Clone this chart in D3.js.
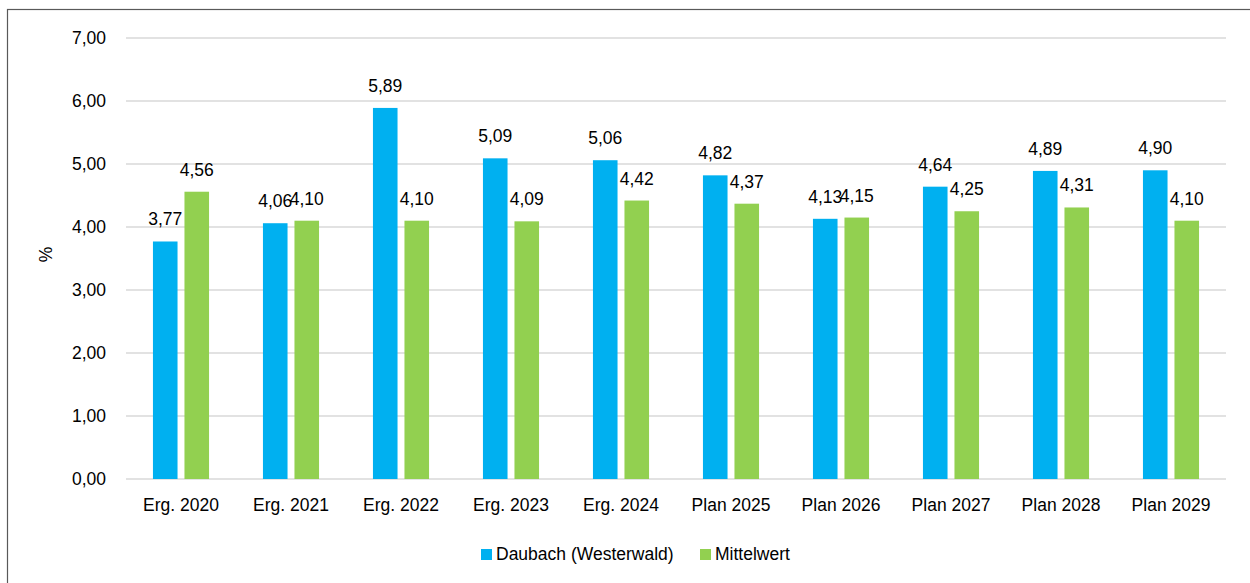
<!DOCTYPE html>
<html>
<head>
<meta charset="utf-8">
<script src="https://cdn.jsdelivr.net/npm/d3@7"></script>
<style>
  body { margin: 0; background: #fff; }
  svg text { font-family: "Liberation Sans", Arial, sans-serif; fill: #000; }
</style>
</head>
<body>
<div id="chart"></div>
<script>
var categories = ["Erg. 2020","Erg. 2021","Erg. 2022","Erg. 2023","Erg. 2024","Plan 2025","Plan 2026","Plan 2027","Plan 2028","Plan 2029"];
var seriesNames = ["Daubach (Westerwald)", "Mittelwert"];
var daubach = [3.77, 4.06, 5.89, 5.09, 5.06, 4.82, 4.13, 4.64, 4.89, 4.90];
var mittelwert = [4.56, 4.10, 4.10, 4.09, 4.42, 4.37, 4.15, 4.25, 4.31, 4.10];
var yTicks = [0, 1, 2, 3, 4, 5, 6, 7];
var colors = ["#00B0F0", "#92D050"];

var W = 1250, H = 583;
var margin = {top: 38, right: 24, bottom: 104, left: 126},
    width = W - margin.left - margin.right,
    height = H - margin.top - margin.bottom;

var fmt = function(v) { return d3.format(".2f")(v).replace(".", ","); };

var root = d3.select("#chart").append("svg")
    .attr("width", W)
    .attr("height", H);

// outer frame
root.append("rect")
  .attr("x", 7.5).attr("y", 9.5)
  .attr("width", W + 20).attr("height", H + 20)
  .attr("fill", "none")
  .attr("stroke", "#595959")
  .attr("stroke-width", 1.2);

var svg = root.append("g")
    .attr("transform", "translate(" + margin.left + "," + margin.top + ")");

var x0 = d3.scaleBand()
  .domain(categories)
  .range([0, width])
  .paddingInner(0.49)
  .paddingOuter(0.245);

var x1 = d3.scaleBand()
  .domain(seriesNames)
  .range([0, x0.bandwidth()])
  .paddingInner(0.22);

var y = d3.scaleLinear()
  .domain([0, 7])
  .range([height, 0]);

// gridlines
svg.append("g")
  .selectAll("line")
  .data(yTicks)
  .enter()
  .append("line")
    .attr("x1", 0).attr("x2", width)
    .attr("y1", function(d) { return y(d); })
    .attr("y2", function(d) { return y(d); })
    .attr("stroke", "#D9D9D9")
    .attr("stroke-width", 1.5);

// y axis labels
var yAxis = svg.append("g")
  .call(d3.axisLeft(y).tickValues(yTicks).tickSize(0).tickPadding(20).tickFormat(fmt));
yAxis.select(".domain").remove();
yAxis.selectAll("text")
  .style("font-size", "17.5px")
  .attr("fill", "#000");

// x axis labels
var xAxis = svg.append("g")
  .attr("transform", "translate(0," + height + ")")
  .call(d3.axisBottom(x0).tickSize(0).tickPadding(20));
xAxis.select(".domain").remove();
xAxis.selectAll("text")
  .style("font-size", "17.5px")
  .attr("fill", "#000");

// bars
var rows = categories.map(function(c, i) {
  return {cat: c, vals: [
    {name: seriesNames[0], value: daubach[i], color: colors[0]},
    {name: seriesNames[1], value: mittelwert[i], color: colors[1]}
  ]};
});

var groups = svg.append("g")
  .selectAll("g")
  .data(rows)
  .enter()
  .append("g")
    .attr("transform", function(d) { return "translate(" + x0(d.cat) + ",0)"; });

groups.selectAll("rect")
  .data(function(d) { return d.vals; })
  .enter()
  .append("rect")
    .attr("x", function(d) { return x1(d.name); })
    .attr("y", function(d) { return y(d.value); })
    .attr("width", x1.bandwidth())
    .attr("height", function(d) { return height - y(d.value); })
    .attr("fill", function(d) { return d.color; });

groups.selectAll("text")
  .data(function(d) { return d.vals; })
  .enter()
  .append("text")
    .attr("x", function(d) { return x1(d.name) + x1.bandwidth() / 2; })
    .attr("y", function(d) { return y(d.value) - 16; })
    .attr("text-anchor", "middle")
    .style("font-size", "17.5px")
    .text(function(d) { return fmt(d.value); });

// y axis title
svg.append("text")
  .attr("transform", "translate(-74," + (height / 2 - 4) + ") rotate(-90)")
  .attr("text-anchor", "middle")
  .style("font-size", "17.5px")
  .text("%");

// legend
var legendX = [481, 700];
var legend = root.append("g")
  .selectAll("g")
  .data(seriesNames)
  .enter()
  .append("g")
    .attr("transform", function(d, i) { return "translate(" + legendX[i] + ",549)"; });
legend.append("rect")
  .attr("width", 11).attr("height", 11)
  .attr("fill", function(d, i) { return colors[i]; });
legend.append("text")
  .attr("x", 15).attr("y", 11)
  .style("font-size", "17.5px")
  .text(function(d) { return d; });
</script>
</body>
</html>
